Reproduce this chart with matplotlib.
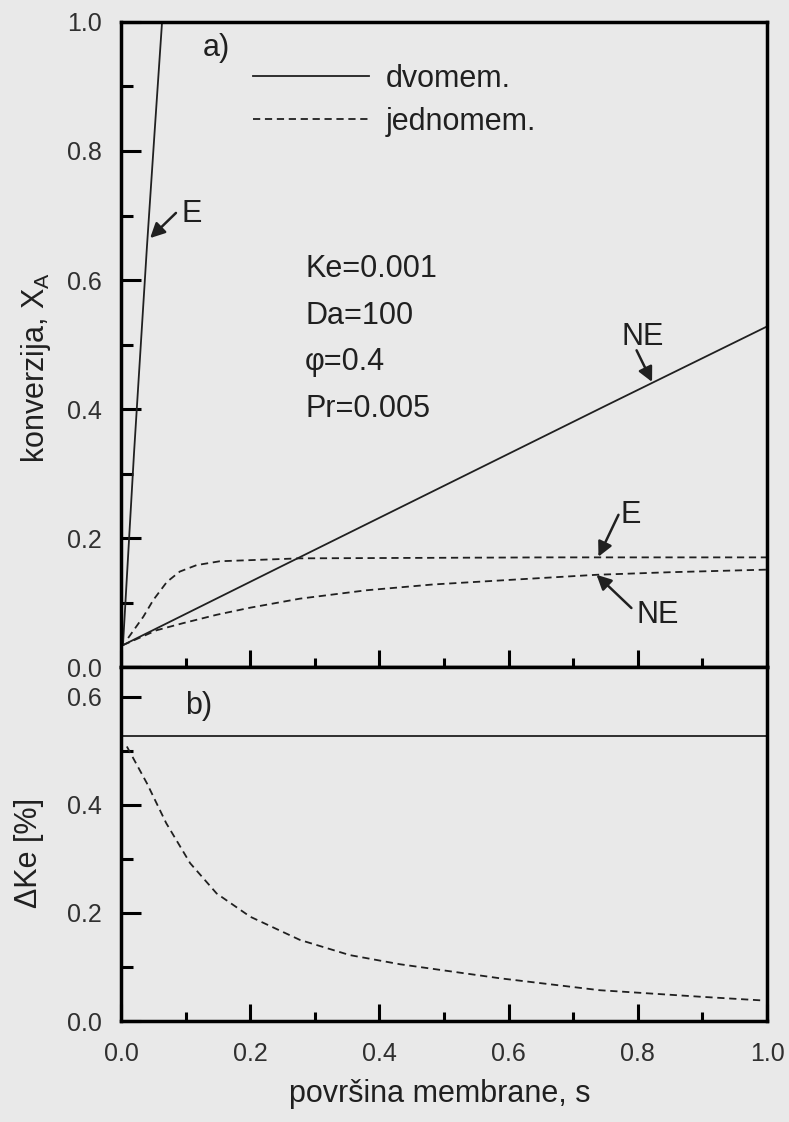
import matplotlib
matplotlib.use("Agg")
import matplotlib.pyplot as plt

# 字体设置（Arial 类）
plt.rcParams['font.family'] = ['Liberation Sans', 'DejaVu Sans']
plt.rcParams['mathtext.fontset'] = 'custom'
plt.rcParams['mathtext.rm'] = 'Liberation Sans'
plt.rcParams['mathtext.it'] = 'Liberation Sans'

# ---------------- 数据 ----------------
# a) 转化率 X_A
s_dvo_E = [0.003, 0.02, 0.04, 0.052, 0.0635]
x_dvo_E = [0.034, 0.33, 0.65, 0.83, 1.0]

s_dvo_NE = [0.003, 0.25, 0.5, 0.75, 1.0]
x_dvo_NE = [0.034, 0.157, 0.281, 0.405, 0.528]

s_jed_E = [0.011, 0.0345, 0.05, 0.071, 0.091, 0.117, 0.153, 0.277, 0.664, 1.0]
x_jed_E = [0.045, 0.078, 0.104, 0.132, 0.148, 0.158, 0.164, 0.1685, 0.170, 0.170]

s_jed_NE = [0.003, 0.055, 0.096, 0.148, 0.2, 0.277, 0.38, 0.483, 0.6, 0.736, 0.85, 1.0]
x_jed_NE = [0.034, 0.057, 0.068, 0.081, 0.092, 0.106, 0.119, 0.128, 0.135, 0.143, 0.147, 0.151]

# b) ΔKe [%]
s_dke = [0.0, 1.0]
dke_dvo = [0.528, 0.528]

s_dke_jed = [0.009, 0.04, 0.07, 0.107, 0.148, 0.2, 0.277, 0.354, 0.432, 0.587, 0.741, 0.896, 0.994]
dke_jed = [0.508, 0.44, 0.366, 0.292, 0.236, 0.193, 0.15, 0.122, 0.105, 0.079, 0.057, 0.045, 0.038]

legend_labels = ['dvomem.', 'jednomem.']
param_lines = ['Ke=0.001', 'Da=100', 'φ=0.4', 'Pr=0.005']

bg = '#e9e9e9'
lw = 1.3
dash = (0, (4, 2.6))

fig = plt.figure(figsize=(7.89, 11.22), dpi=100, facecolor=bg)
ax1 = fig.add_axes([0.1534, 0.4055, 0.8188, 0.5749])
ax2 = fig.add_axes([0.1534, 0.0900, 0.8188, 0.3155])

for ax in (ax1, ax2):
    ax.set_facecolor(bg)
    for sp in ax.spines.values():
        sp.set_linewidth(2.5)
    ax.set_xlim(0, 1.0)
    ax.set_xticks([0, 0.2, 0.4, 0.6, 0.8, 1.0])
    ax.set_xticks([0.1, 0.3, 0.5, 0.7, 0.9], minor=True)
    ax.xaxis.set_major_formatter(plt.FormatStrFormatter('%.1f'))
    ax.yaxis.set_major_formatter(plt.FormatStrFormatter('%.1f'))
    ax.tick_params(axis='both', which='both', direction='in', width=2.2,
                   top=False, right=False, labelsize=18, labelcolor='#303030')
    ax.tick_params(axis='y', which='major', length=14.5, pad=14)
    ax.tick_params(axis='y', which='minor', length=8.5)
    ax.tick_params(axis='x', which='major', length=12, pad=15)
    ax.tick_params(axis='x', which='minor', length=6.5)

# ---- a) ----
ax1.plot(s_dvo_E, x_dvo_E, color='#202020', lw=lw, label=legend_labels[0])
ax1.plot(s_dvo_NE, x_dvo_NE, color='#202020', lw=lw)
ax1.plot(s_jed_E, x_jed_E, color='#202020', lw=lw, linestyle=dash, label=legend_labels[1])
ax1.plot(s_jed_NE, x_jed_NE, color='#202020', lw=lw, linestyle=dash)

ax1.set_ylim(0, 1.0)
ax1.set_yticks([0, 0.2, 0.4, 0.6, 0.8, 1.0])
ax1.set_yticks([0.1, 0.3, 0.5, 0.7, 0.9], minor=True)
ax1.tick_params(axis='x', labelbottom=False)
ax1.set_ylabel('konverzija, $\\mathregular{X_A}$', fontsize=22, color='#202020')
ax1.yaxis.set_label_coords(-0.105, 0.464)

leg = ax1.legend(loc='upper left', bbox_to_anchor=(0.204, 0.935), frameon=False,
                 fontsize=22, handlelength=3.8, handletextpad=0.55, labelspacing=0.42,
                 borderpad=0, borderaxespad=0)
for t in leg.get_texts():
    t.set_color('#202020')

ax1.text(0.127, 0.96, 'a)', fontsize=22, ha='left', va='center', color='#202020')
yb = [0.605, 0.532, 0.461, 0.388]
for t, y in zip(param_lines, yb):
    ax1.text(0.285, y, t, fontsize=22, ha='left', va='baseline', color='#202020')

arrow = dict(arrowstyle='-|>', color='#202020', lw=1.8, mutation_scale=22,
             shrinkA=0, shrinkB=0)
ax1.annotate('', xy=(0.045, 0.665), xytext=(0.085, 0.704), arrowprops=arrow)
ax1.text(0.094, 0.702, 'E', fontsize=22, ha='left', va='center', color='#202020')
ax1.annotate('', xy=(0.822, 0.442), xytext=(0.798, 0.491), arrowprops=arrow)
ax1.text(0.808, 0.512, 'NE', fontsize=22, ha='center', va='center', color='#202020')
ax1.annotate('', xy=(0.739, 0.171), xytext=(0.770, 0.236), arrowprops=arrow)
ax1.text(0.789, 0.236, 'E', fontsize=22, ha='center', va='center', color='#202020')
ax1.annotate('', xy=(0.736, 0.143), xytext=(0.790, 0.0915), arrowprops=arrow)
ax1.text(0.831, 0.081, 'NE', fontsize=22, ha='center', va='center', color='#202020')

# ---- b) ----
ax2.plot(s_dke, dke_dvo, color='#202020', lw=lw)
ax2.plot(s_dke_jed, dke_jed, color='#202020', lw=lw, linestyle=dash)
ax2.set_ylim(0, 0.655)
ax2.set_yticks([0, 0.2, 0.4, 0.6])
ax2.set_yticks([0.1, 0.3, 0.5], minor=True)
ax2.set_ylabel('ΔKe [%]', fontsize=22, color='#202020')
ax2.yaxis.set_label_coords(-0.12, 0.475)
ax2.set_xlabel('površina membrane, s', fontsize=22, color='#202020')
ax2.xaxis.set_label_coords(0.494, -0.165)
ax2.text(0.099, 0.583, 'b)', fontsize=22, ha='left', va='center', color='#202020')

fig.savefig('out.png', dpi=100, facecolor=bg)
